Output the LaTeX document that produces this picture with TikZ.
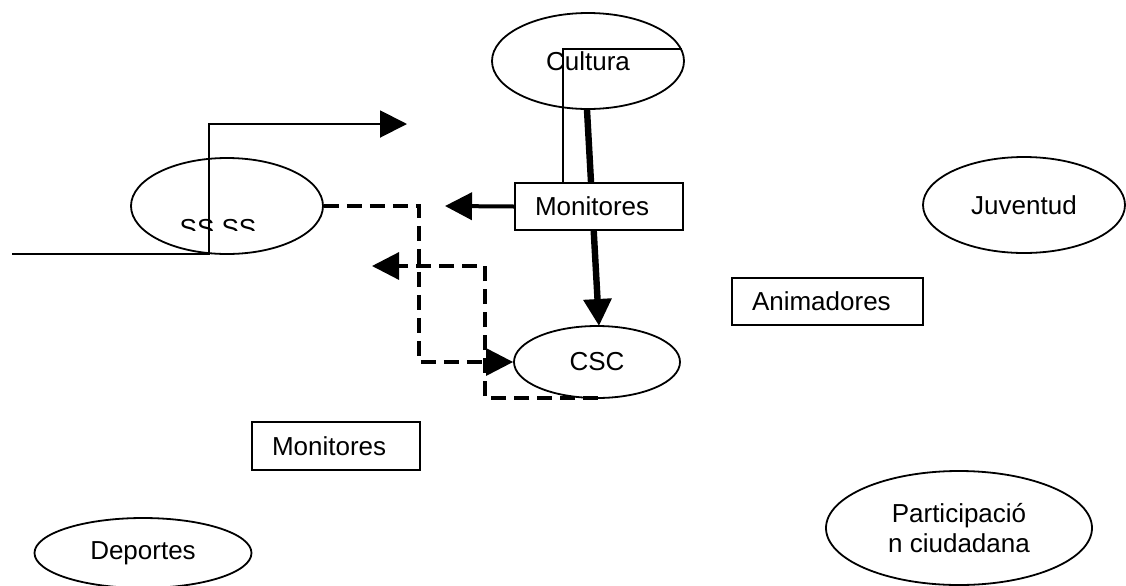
\documentclass[tikz,border=0pt]{standalone}
\usepackage{fontspec}
\setmainfont{Liberation Sans}
\usetikzlibrary{shapes.geometric,arrows.meta}
\begin{document}
\begin{tikzpicture}[x=0.5pt,y=-0.5pt,
  font=\fontsize{13}{15}\selectfont,
  oval/.style={ellipse,draw,line width=0.9pt,inner sep=0pt},
  box/.style={rectangle,draw,line width=0.9pt,fill=white,inner xsep=10pt,inner ysep=0pt,align=left},
  thinln/.style={line width=1pt},
  medln/.style={line width=1.4pt},
  thickln/.style={line width=2pt},
  heavyln/.style={line width=3.2pt},
  dashln/.style={line width=1.6pt,dash pattern=on 7.5pt off 4pt},
  tip/.style={-{Triangle[length=13.5pt,width=13.5pt]}}
]
\useasboundingbox (0,0) rectangle (1126,585);

% ellipses
\node[oval,minimum width=96pt,minimum height=48pt] (cultura) at (588,61) {Cultura};
\node[oval,minimum width=96pt,minimum height=48pt] (ss) at (227,206) {};
\node[oval,minimum width=83pt,minimum height=36pt] (csc) at (597,362) {CSC};
\node[oval,minimum width=101pt,minimum height=48pt] (juv) at (1024,205) {Juventud};
\node[oval,minimum width=133pt,minimum height=57pt,align=center] (part) at (959,528) {Participació\\n ciudadana};
\node[oval,minimum width=108.5pt,minimum height=35pt] (dep) at (143,553) {Deportes};

% clipped text in SS SS ellipse
\begin{scope}
  \clip (150,200) rectangle (300,230);
  \node[anchor=base,inner sep=0pt] (sstext) at (218,237) {SS SS};
\end{scope}

% coordinates for connectors
\coordinate (a0) at (12,254);
\coordinate (a1) at (209,254);
\coordinate (a2) at (209,124);
\coordinate (a3) at (407,124);
\coordinate (c1) at (563,49);
\coordinate (c2) at (682,49);
\coordinate (m1tip) at (445,206);
\coordinate (d1) at (419,206);
\coordinate (d2) at (419,362);
\coordinate (e1) at (598,398);
\coordinate (e2) at (485,398);
\coordinate (e3) at (485,266);
\coordinate (e4) at (372,266);
\coordinate (cultbot) at (587,110);
\coordinate (csctop) at (599,326);

% connectors
\draw[thinln,tip] (a0) -- (a1) -- (a2) -- (a3);
\draw[heavyln,tip] (cultbot) -- (csctop);
\draw[dashln,tip] (ss.east) -- (d1) -- (d2) -- (csc.west);
\draw[dashln,tip] (e1) -- (e2) -- (e3) -- (e4);

% boxes
\node[box,text width=64pt,minimum height=23.5pt] (mon1) at (599,206.5) {Monitores};
\node[box,text width=75.5pt,minimum height=23.5pt] (anim) at (827.5,301.5) {Animadores};
\node[box,text width=64pt,minimum height=24pt] (mon2) at (336,446) {Monitores};

\draw[medln] (mon1.north -| c1) -- (c1) -- (c2);
\draw[thickln,tip] (mon1.west) -- (m1tip);
\end{tikzpicture}
\end{document}
